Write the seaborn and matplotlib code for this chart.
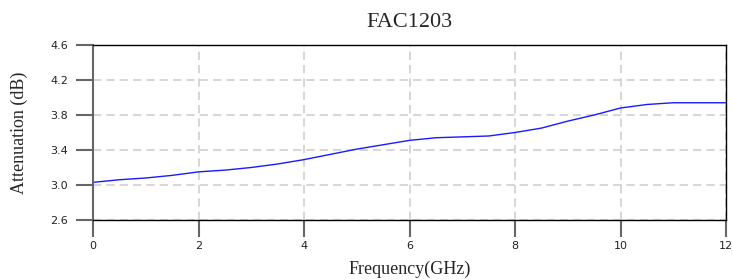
import matplotlib
matplotlib.use("Agg")
import matplotlib.pyplot as plt
import pandas as pd
import seaborn as sns

# Частота (ГГц) и затухание (дБ)
freq_ghz = [0.0, 0.5, 1.0, 1.5, 2.0, 2.5, 3.0, 3.5, 4.0, 4.5, 5.0, 5.5, 6.0,
            6.5, 7.0, 7.5, 8.0, 8.5, 9.0, 9.5, 10.0, 10.5, 11.0, 11.5, 12.0]
atten_db = [3.03, 3.06, 3.08, 3.11, 3.15, 3.17, 3.20, 3.24, 3.29, 3.35, 3.41, 3.46, 3.51,
            3.54, 3.55, 3.56, 3.60, 3.65, 3.73, 3.80, 3.88, 3.92, 3.94, 3.94, 3.94]
x_ticks = [0, 2, 4, 6, 8, 10, 12]
y_ticks = [2.6, 3.0, 3.4, 3.8, 4.2, 4.6]
y_labels = ['2.6', '3.0', '3.4', '3.8', '4.2', '4.6']

df = pd.DataFrame({'freq': freq_ghz, 'att': atten_db})

sns.set_style('white')
fig = plt.figure(figsize=(7.33, 2.8), dpi=100)
ax = fig.add_axes([0.1269, 0.2143, 0.8636, 0.625])

sns.lineplot(data=df, x='freq', y='att', color='#1a1aff', linewidth=1.0, ax=ax)

ax.set_xlim(0, 12)
ax.set_ylim(2.6, 4.6)
ax.set_xticks(x_ticks)
ax.set_yticks(y_ticks)
ax.set_yticklabels(y_labels)

ax.grid(True, color='#d0d0d0', linestyle=(0, (5, 3)), linewidth=1.2)
ax.tick_params(axis='both', direction='out', length=12, width=1.5, color='#666666',
               labelsize=8, labelcolor='#222222', pad=3, bottom=True, left=True)
ax.tick_params(axis='y', pad=6)

for s in ['top', 'right', 'bottom']:
    ax.spines[s].set_color('black')
    ax.spines[s].set_linewidth(1.0)
ax.spines['left'].set_color('#666666')
ax.spines['left'].set_linewidth(1.5)

serif = ['Liberation Serif', 'DejaVu Serif']
ax.set_title('FAC1203', fontsize=16, family=serif, pad=13)
ax.set_xlabel('Frequency(GHz)', fontsize=13, family=serif, labelpad=7)
ax.set_ylabel('Attenuation (dB)', fontsize=13, family=serif, labelpad=16)

fig.savefig('out.png', dpi=100)
